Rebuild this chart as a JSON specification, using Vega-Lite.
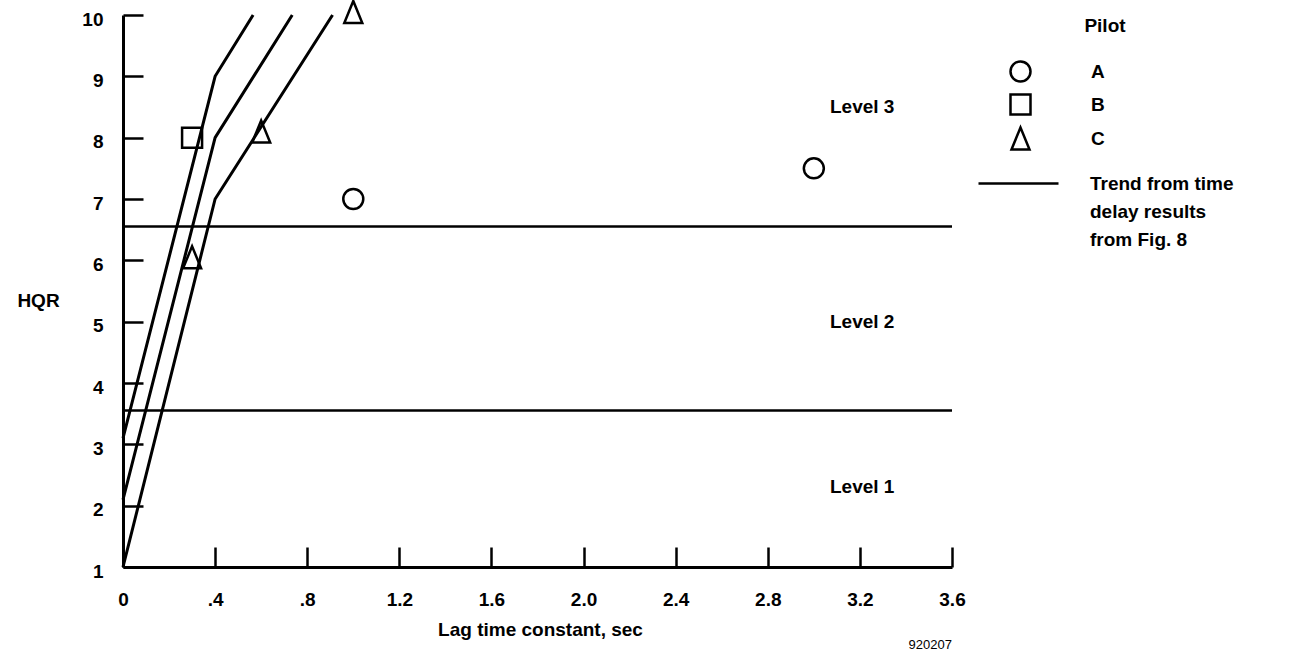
{
  "$schema": "https://vega.github.io/schema/vega-lite/v6.json",
  "width": 829,
  "height": 552,
  "autosize": "none",
  "padding": {"left": 123, "top": 15, "right": 350, "bottom": 89},
  "background": "white",
  "config": {
    "font": "Liberation Sans",
    "view": {"stroke": null},
    "style": {"guide-label": {"lineHeight": 28}}
  },
  "title": {
    "text": "920207",
    "orient": "bottom",
    "anchor": "end",
    "frame": "group",
    "fontSize": 13,
    "fontWeight": "normal",
    "font": "Liberation Sans",
    "color": "black",
    "offset": 0
  },
  "datasets": {
    "pts": [
      {"x": 1.0, "y": 7.0, "pilot": "A"},
      {"x": 3.0, "y": 7.5, "pilot": "A"},
      {"x": 0.3, "y": 8.0, "pilot": "B"},
      {"x": 0.3, "y": 6.05, "pilot": "C"},
      {"x": 0.6, "y": 8.1, "pilot": "C"},
      {"x": 1.0, "y": 10.05, "pilot": "C"}
    ],
    "trend": [
      {"x": 0, "y": 3.1, "line": "1", "series": "Trend"},
      {"x": 0.4, "y": 9.0, "line": "1", "series": "Trend"},
      {"x": 0.565, "y": 10.0, "line": "1", "series": "Trend"},
      {"x": 0, "y": 2.1, "line": "2", "series": "Trend"},
      {"x": 0.4, "y": 8.0, "line": "2", "series": "Trend"},
      {"x": 0.735, "y": 10.0, "line": "2", "series": "Trend"},
      {"x": 0, "y": 1.0, "line": "3", "series": "Trend"},
      {"x": 0.4, "y": 7.0, "line": "3", "series": "Trend"},
      {"x": 0.91, "y": 10.0, "line": "3", "series": "Trend"}
    ],
    "bounds": [{"y": 6.55}, {"y": 3.55}],
    "levels": [
      {"x": 3.21, "y": 8.5, "label": "Level 3"},
      {"x": 3.21, "y": 5.0, "label": "Level 2"},
      {"x": 3.21, "y": 2.3, "label": "Level 1"}
    ]
  },
  "layer": [
    {
      "data": {"name": "trend"},
      "mark": {"type": "line", "strokeWidth": 3},
      "encoding": {
        "x": {
          "field": "x", "type": "quantitative",
          "scale": {"domain": [0, 3.6], "nice": false, "zero": false},
          "axis": {
            "title": "Lag time constant, sec",
            "values": [0, 0.4, 0.8, 1.2, 1.6, 2.0, 2.4, 2.8, 3.2, 3.6],
            "labelExpr": "datum.value == 0 ? '0' : datum.value < 1 ? replace(format(datum.value, '.1f'), '0.', '.') : format(datum.value, '.1f')",
            "tickSize": -20,
            "tickWidth": 2.5,
            "tickColor": "black",
            "domainColor": "black",
            "domainWidth": 3,
            "grid": false,
            "labelFontSize": 19,
            "labelFontWeight": "bold",
            "labelColor": "black",
            "labelPadding": 43,
            "labelFlush": false,
            "labelOverlap": false,
            "titleFontSize": 19,
            "titleFontWeight": "bold",
            "titleColor": "black",
            "titleX": 417,
            "titleY": 62,
            "titleBaseline": "middle",
            "titleAlign": "center"
          }
        },
        "y": {
          "field": "y", "type": "quantitative",
          "scale": {"domain": [1, 10], "nice": false, "zero": false},
          "axis": {
            "title": "HQR",
            "values": [1, 2, 3, 4, 5, 6, 7, 8, 9, 10],
            "format": "d",
            "tickSize": -20,
            "tickWidth": 2.5,
            "tickColor": "black",
            "domainColor": "black",
            "domainWidth": 3,
            "grid": false,
            "labelFontSize": 19,
            "labelFontWeight": "bold",
            "labelColor": "black",
            "labelPadding": 40,
            "labelOffset": 4,
            "labelFlush": false,
            "labelOverlap": false,
            "titleFontSize": 19,
            "titleFontWeight": "bold",
            "titleColor": "black",
            "titleAngle": 0,
            "titleX": -85,
            "titleY": 285,
            "titleAlign": "center",
            "titleBaseline": "middle"
          }
        },
        "detail": {"field": "line", "type": "nominal"},
        "color": {
          "field": "series", "type": "nominal",
          "scale": {"domain": ["Trend"], "range": ["black"]},
          "legend": {
            "title": null,
            "orient": "none",
            "legendX": 854,
            "legendY": 127,
            "padding": 0,
            "symbolType": "stroke",
            "symbolSize": 6400,
            "symbolStrokeWidth": 2.5,
            "symbolStrokeColor": "black",
            "labelFontSize": 19,
            "labelFontWeight": "bold",
            "labelColor": "black",
            "labelOffset": 30,
            "labelBaseline": "middle",
            "labelLimit": 400,
            "labelExpr": "['Trend from time', '\u00a0\u00a0\u00a0delay results', '\u00a0\u00a0\u00a0from Fig. 8']"
          }
        }
      }
    },
    {
      "data": {"name": "bounds"},
      "mark": {"type": "rule", "color": "black", "strokeWidth": 2.5},
      "encoding": {
        "y": {"field": "y", "type": "quantitative"}
      }
    },
    {
      "data": {"name": "levels"},
      "mark": {"type": "text", "fontSize": 19, "fontWeight": "bold", "color": "black", "align": "center", "baseline": "middle"},
      "encoding": {
        "x": {"field": "x", "type": "quantitative"},
        "y": {"field": "y", "type": "quantitative"},
        "text": {"field": "label", "type": "nominal"}
      }
    },
    {
      "data": {"name": "pts"},
      "mark": {"type": "point", "filled": false, "color": "black", "strokeWidth": 2.5, "opacity": 1, "size": 400},
      "encoding": {
        "x": {"field": "x", "type": "quantitative"},
        "y": {"field": "y", "type": "quantitative"},
        "shape": {
          "field": "pilot", "type": "nominal",
          "scale": {"domain": ["A", "B", "C"], "range": ["circle", "square", "M0,-1.1L-0.9,1.1L0.9,1.1Z"]},
          "legend": {
            "title": "Pilot",
            "orient": "none",
            "legendX": 886,
            "legendY": 2,
            "padding": 0,
            "titleFontSize": 19,
            "titleFontWeight": "bold",
            "titleColor": "black",
            "titleAnchor": "end",
            "titleAlign": "center",
            "titlePadding": 24,
            "labelFontSize": 19,
            "labelFontWeight": "bold",
            "labelColor": "black",
            "labelOffset": 59,
            "labelBaseline": "middle",
            "rowPadding": 2,
            "symbolSize": 400,
            "symbolStrokeColor": "black",
            "symbolStrokeWidth": 2.5,
            "symbolFillColor": "transparent",
            "symbolOpacity": 1
          }
        }
      }
    }
  ]
}
